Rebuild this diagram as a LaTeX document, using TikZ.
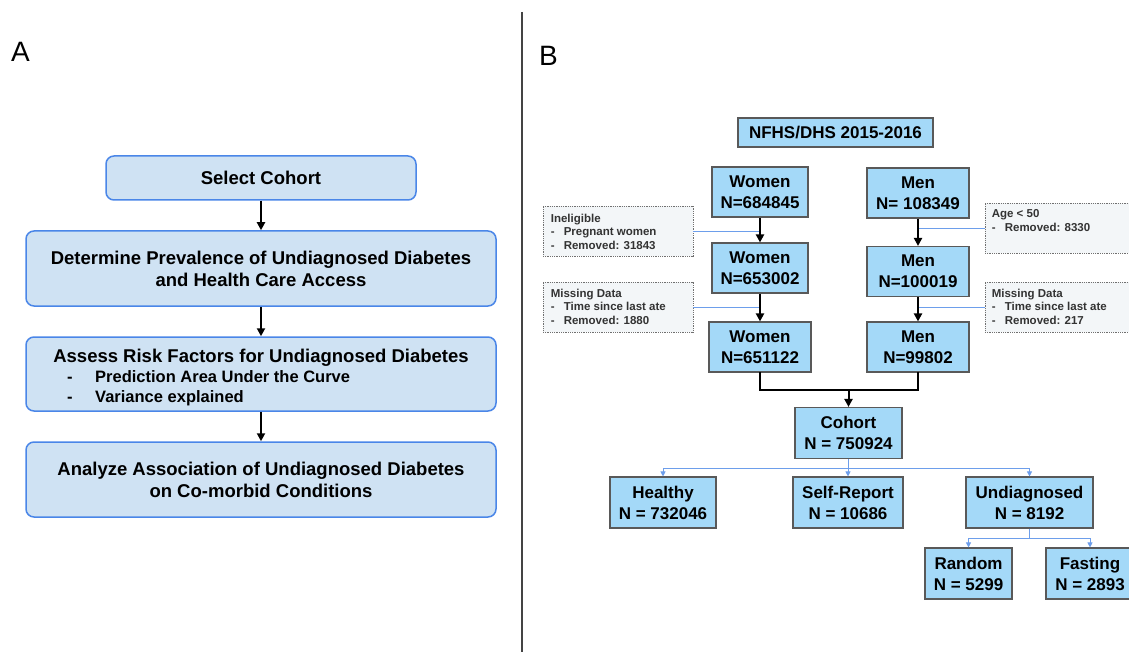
\documentclass[tikz,border=0pt]{standalone}
\usepackage{fontspec}
\setmainfont{Liberation Sans}
\usetikzlibrary{arrows.meta,calc}
\definecolor{lfill}{HTML}{CFE2F3}
\definecolor{lborder}{HTML}{4A86E8}
\definecolor{rfill}{HTML}{A4D9F8}
\definecolor{rborder}{HTML}{595959}
\definecolor{nfill}{HTML}{F3F6F8}
\definecolor{nborder}{HTML}{707070}
\definecolor{ntext}{HTML}{333333}
\definecolor{bline}{HTML}{6D9EEB}
\definecolor{divider}{HTML}{444444}
\begin{document}
\begin{tikzpicture}[x=1pt,y=-1pt,
  lbox/.style={draw=lborder, line width=1.5pt, fill=lfill, rounded corners=8pt, inner sep=0pt, align=center, font=\fontsize{18.5}{22}\selectfont\bfseries},
  rbox/.style={draw=rborder, line width=1.1pt, fill=rfill, inner sep=0pt, align=center, font=\fontsize{17}{21}\selectfont\bfseries},
  notebox/.style={draw=nborder, densely dotted, line width=0.8pt, fill=nfill, inner sep=0pt, minimum width=150pt, minimum height=50pt},
  notetext/.style={anchor=north west, inner sep=0pt, align=left, text=ntext, font=\fontsize{11.5}{13.5}\selectfont\bfseries},
  bullet/.style={anchor=base west, inner sep=0pt, font=\fontsize{16.5}{20}\selectfont\bfseries},
  blk/.style={line width=2pt, -{Triangle[length=8pt,width=8pt]}},
  blkline/.style={line width=2pt},
  bl/.style={draw=bline, line width=0.9pt},
  blarrow/.style={draw=bline, line width=0.9pt, -{Triangle[length=5pt,width=5pt]}},
  panel/.style={anchor=base west, inner sep=0pt, font=\fontsize{28}{30}\selectfont}
]
\clip (0,0) rectangle (1129,652);
\fill[white] (0,0) rectangle (1129,652);

% labels and divider
\node[panel] (labA) at (11,62) {A};
\node[panel] (labB) at (539,66) {B};
\draw[divider, line width=1.2pt] (522,12) -- (522,652);

% ---------- Panel A ----------
\node[lbox, minimum width=310pt, minimum height=44pt] (sel) at (261,178) {Select Cohort};
\node[lbox, minimum width=470pt, minimum height=75pt] (prev) at (261,268.5) {Determine Prevalence of Undiagnosed Diabetes\\and Health Care Access};
\node[lbox, minimum width=470pt, minimum height=74pt] (risk) at (261,374) {};
\node[anchor=base, inner sep=0pt, font=\fontsize{18.5}{22}\selectfont\bfseries] (riskt) at (261,362) {Assess Risk Factors for Undiagnosed Diabetes};
\node[bullet] (b1) at (67,382) {\makebox[28pt][l]{-}Prediction Area Under the Curve};
\node[bullet] (b2) at (67,402) {\makebox[28pt][l]{-}Variance explained};
\node[lbox, minimum width=470pt, minimum height=75pt] (assoc) at (261,479.5) {Analyze Association of Undiagnosed Diabetes\\on Co-morbid Conditions};

\draw[blk] (sel.south) -- (prev.north);
\draw[blk] (prev.south) -- (risk.north);
\draw[blk] (risk.south) -- (assoc.north);

% ---------- Panel B ----------
\node[rbox, minimum width=195pt, minimum height=29pt] (nfhs) at (835.5,132.5) {NFHS/DHS 2015-2016};

\node[rbox, minimum width=96pt, minimum height=50pt] (w1) at (760,192) {Women\\N=684845};
\node[rbox, minimum width=96pt, minimum height=50pt] (w2) at (760,268) {Women\\N=653002};
\node[rbox, minimum width=102pt, minimum height=50pt] (w3) at (760,347) {Women\\N=651122};

\node[rbox, minimum width=102pt, minimum height=50pt] (m1) at (918,193) {Men\\N= 108349};
\node[rbox, minimum width=102pt, minimum height=50pt] (m2) at (918,271.5) {Men\\N=100019};
\node[rbox, minimum width=102pt, minimum height=50pt] (m3) at (918,347) {Men\\N=99802};

\node[notebox] (n1) at (618,231.5) {};
\node[notetext] (n1t) at ($(n1.north west)+(8,7.5)$) {Ineligible\\\makebox[13pt][l]{-}Pregnant women\\\makebox[13pt][l]{-}Removed: 31843};
\node[notebox] (n2) at (618,307) {};
\node[notetext] (n2t) at ($(n2.north west)+(8,7)$) {Missing Data\\\makebox[13pt][l]{-}Time since last ate\\\makebox[13pt][l]{-}Removed: 1880};
\node[notebox] (n3) at (1060,228) {};
\node[notetext] (n3t) at ($(n3.north west)+(7,7)$) {Age {\textless} 50\\\makebox[13pt][l]{-}Removed: 8330};
\node[notebox] (n4) at (1060,307) {};
\node[notetext] (n4t) at ($(n4.north west)+(7,7)$) {Missing Data\\\makebox[13pt][l]{-}Time since last ate\\\makebox[13pt][l]{-}Removed: 217};

\node[rbox, minimum width=107pt, minimum height=51pt] (cohort) at (848.5,433) {Cohort\\N = 750924};
\node[rbox, minimum width=106pt, minimum height=51pt] (healthy) at (663,502.5) {Healthy\\N = 732046};
\node[rbox, minimum width=110pt, minimum height=51pt] (self) at (848,502.5) {Self-Report\\N = 10686};
\node[rbox, minimum width=127pt, minimum height=51pt] (undiag) at (1029.5,502.5) {Undiagnosed\\N = 8192};
\node[rbox, minimum width=87pt, minimum height=51pt] (random) at (968.5,573.5) {Random\\N = 5299};
\node[rbox, minimum width=88pt, minimum height=51pt] (fasting) at (1090,573.5) {Fasting\\N = 2893};

% note connectors (drawn before arrows)
\draw[bl] (n1.east) -- (n1.east -| w1.south);
\draw[bl] (n2.east) -- (n2.east -| w2.south);
\draw[bl] (n3.west) -- (n3.west -| m1.south);
\draw[bl] (n4.west) -- (n4.west -| m2.south);

\draw[blk] (w1.south) -- (w2.north);
\draw[blk] (w2.south) -- (w3.north);
\draw[blk] (m1.south) -- (m2.north);
\draw[blk] (m2.south) -- (m3.north);

% merge
\coordinate (jw) at (w3.south |- 0,390);
\coordinate (jm) at (m3.south |- 0,390);
\coordinate (jc) at (cohort.north |- 0,390);
\draw[blkline, line cap=rect] (w3.south) -- (jw) -- (jm) -- (m3.south);
\draw[blk] (jc) -- (cohort.north);

% cohort split
\coordinate (cs) at (cohort.south |- 0,468);
\coordinate (ch) at (healthy.north |- 0,468);
\coordinate (cself) at (self.north |- 0,468);
\coordinate (cu) at (undiag.north |- 0,468);
\draw[bl] (cohort.south) -- (cs);
\draw[bl] (ch) -- (cu);
\draw[blarrow] (ch) -- (healthy.north);
\draw[blarrow] (cself) -- (self.north);
\draw[blarrow] (cu) -- (undiag.north);

% undiagnosed split
\coordinate (us) at (undiag.south |- 0,538);
\coordinate (ur) at (random.north |- 0,538);
\coordinate (uf) at (fasting.north |- 0,538);
\draw[bl] (undiag.south) -- (us);
\draw[bl] (ur) -- (uf);
\draw[blarrow] (ur) -- (random.north);
\draw[blarrow] (uf) -- (fasting.north);
\end{tikzpicture}
\end{document}
